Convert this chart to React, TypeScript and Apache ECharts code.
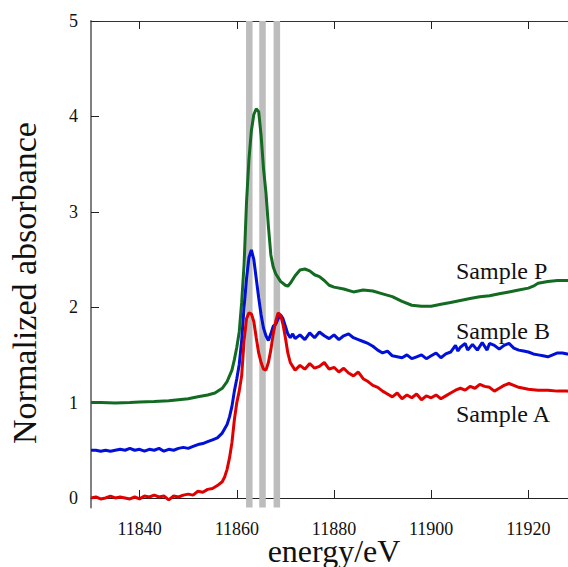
import React, { useEffect, useRef } from "react";
import * as echarts from "echarts";

// Sample P (green)
const energyP = [11830, 11832, 11835, 11838, 11840, 11843, 11846, 11848, 11850, 11852, 11854, 11855.5, 11857, 11858, 11859, 11859.5, 11860, 11860.5, 11861, 11861.5, 11862, 11862.5, 11863, 11863.5, 11864, 11864.5, 11865, 11865.5, 11866, 11866.5, 11867, 11867.5, 11868, 11869, 11870, 11870.5, 11871, 11872, 11873, 11874, 11875, 11876, 11877, 11878, 11879, 11880, 11882, 11884, 11886, 11888, 11890, 11892, 11894, 11896, 11898, 11900, 11902, 11904, 11906, 11908, 11910, 11912, 11914, 11916, 11918, 11920, 11921, 11922, 11924, 11926, 11928, 11930];
const valuesP = [1.0, 1.0, 0.995, 1.0, 1.005, 1.01, 1.02, 1.03, 1.04, 1.06, 1.08, 1.1, 1.15, 1.22, 1.34, 1.45, 1.58, 1.74, 2.05, 2.45, 3.1, 3.55, 3.85, 4.02, 4.08, 4.05, 3.8, 3.45, 3.2, 2.85, 2.55, 2.42, 2.35, 2.27, 2.23, 2.22, 2.25, 2.33, 2.39, 2.4, 2.38, 2.34, 2.32, 2.28, 2.23, 2.21, 2.19, 2.16, 2.18, 2.17, 2.14, 2.11, 2.06, 2.02, 2.01, 2.01, 2.03, 2.05, 2.07, 2.09, 2.11, 2.12, 2.14, 2.16, 2.18, 2.2, 2.22, 2.25, 2.27, 2.28, 2.28, 2.28];

// Sample B (blue)
const energyB = [11830, 11831, 11832, 11833, 11834, 11835, 11836, 11837, 11838, 11839, 11840, 11841, 11842, 11843, 11844, 11845, 11846, 11847, 11848, 11849, 11850, 11851, 11852, 11853, 11854, 11855, 11856, 11857, 11858, 11858.5, 11859, 11859.5, 11860, 11860.5, 11861, 11861.5, 11862, 11862.5, 11863, 11863.5, 11864, 11864.5, 11865, 11865.5, 11866, 11866.5, 11867, 11867.5, 11868, 11868.5, 11869, 11869.5, 11870, 11870.5, 11871, 11871.5, 11872, 11873, 11874, 11875, 11876, 11877, 11878, 11879, 11880, 11881, 11882, 11883, 11884, 11885, 11886, 11887, 11888, 11889, 11890, 11891, 11892, 11893, 11894, 11895, 11896, 11897, 11898, 11899, 11900, 11901, 11902, 11903, 11904, 11905, 11905.5, 11906, 11907, 11907.5, 11908.5, 11909.5, 11910.5, 11911.5, 11912, 11913, 11914, 11915, 11916, 11917, 11918, 11919, 11920, 11921, 11922, 11923, 11924, 11925, 11926, 11927, 11928, 11930];
const valuesB = [0.5, 0.5, 0.49, 0.5, 0.49, 0.5, 0.51, 0.5, 0.52, 0.5, 0.51, 0.49, 0.51, 0.5, 0.52, 0.49, 0.51, 0.5, 0.52, 0.53, 0.52, 0.54, 0.56, 0.57, 0.59, 0.61, 0.63, 0.68, 0.77, 0.85, 0.96, 1.12, 1.25, 1.4, 1.65, 2.0, 2.3, 2.52, 2.6, 2.5, 2.3, 2.1, 1.92, 1.78, 1.7, 1.65, 1.72, 1.8, 1.82, 1.88, 1.92, 1.88, 1.8, 1.72, 1.68, 1.72, 1.67, 1.71, 1.66, 1.73, 1.68, 1.74, 1.7, 1.67, 1.71, 1.66, 1.7, 1.72, 1.68, 1.66, 1.64, 1.62, 1.59, 1.55, 1.52, 1.54, 1.49, 1.48, 1.47, 1.5, 1.46, 1.48, 1.5, 1.46, 1.49, 1.52, 1.47, 1.51, 1.53, 1.6, 1.54, 1.58, 1.62, 1.55, 1.61, 1.55, 1.63, 1.55, 1.62, 1.6, 1.56, 1.6, 1.62, 1.57, 1.55, 1.54, 1.53, 1.51, 1.5, 1.49, 1.48, 1.5, 1.52, 1.52, 1.51, 1.5];

// Sample A (red)
const energyA = [11830, 11831, 11832, 11833, 11834, 11835, 11836, 11837, 11838, 11839, 11840, 11841, 11842, 11843, 11844, 11845, 11846, 11847, 11848, 11849, 11850, 11851, 11852, 11853, 11854, 11855, 11856, 11857, 11857.5, 11858, 11858.5, 11859, 11859.5, 11860, 11860.5, 11861, 11861.5, 11862, 11862.5, 11863, 11863.5, 11864, 11864.5, 11865, 11865.5, 11866, 11866.5, 11867, 11867.5, 11868, 11868.5, 11869, 11869.5, 11870, 11870.5, 11871, 11871.5, 11872, 11873, 11874, 11875, 11876, 11877, 11878, 11879, 11880, 11881, 11882, 11883, 11884, 11885, 11886, 11887, 11888, 11889, 11890, 11891, 11892, 11893, 11894, 11895, 11896, 11897, 11898, 11899, 11900, 11901, 11902, 11903, 11904, 11905, 11906, 11907, 11908, 11909, 11910, 11911, 11912, 11913, 11914, 11915, 11916, 11917, 11918, 11919, 11920, 11922, 11924, 11926, 11928, 11930];
const valuesA = [0.0, 0.01, -0.01, 0.0, 0.02, 0.0, 0.01, 0.0, -0.01, 0.01, -0.01, 0.02, 0.01, 0.03, 0.01, 0.02, -0.02, 0.02, 0.01, 0.03, 0.04, 0.03, 0.07, 0.06, 0.09, 0.1, 0.13, 0.17, 0.22, 0.3, 0.42, 0.58, 0.82, 1.0, 1.12, 1.28, 1.65, 1.88, 1.94, 1.93, 1.85, 1.68, 1.52, 1.42, 1.35, 1.34, 1.42, 1.55, 1.72, 1.85, 1.94, 1.92, 1.82, 1.68, 1.52, 1.42, 1.38, 1.34, 1.39, 1.35, 1.41, 1.36, 1.38, 1.42, 1.35, 1.37, 1.32, 1.36, 1.31, 1.28, 1.32, 1.25, 1.22, 1.18, 1.16, 1.12, 1.09, 1.06, 1.1, 1.04, 1.08, 1.05, 1.09, 1.03, 1.07, 1.05, 1.08, 1.04, 1.07, 1.1, 1.13, 1.15, 1.13, 1.17, 1.15, 1.19, 1.17, 1.16, 1.12, 1.15, 1.18, 1.2, 1.18, 1.16, 1.15, 1.14, 1.13, 1.13, 1.12, 1.12, 1.11];

// Highlighted energy bands (eV)
const bandCenters = [11862.57, 11865.29, 11868.24];
const bandHalfWidth = 0.67;

const xTicks = [11840, 11860, 11880, 11900, 11920];
const yTicks = [0, 1, 2, 3, 4, 5];

const sampleLabels = ["Sample P", "Sample B", "Sample A"];
const xTitle = "energy/eV";
const yTitle = "Normalized absorbance";

const FONT = "Liberation Serif";

const zip = (xs: number[], ys: number[]) => xs.map((x, i) => [x, ys[i]]);

export default function App() {
  const ref = useRef<HTMLDivElement>(null);
  useEffect(() => {
    if (!ref.current) return;
    const chart = echarts.init(ref.current, null, { renderer: "svg" });
    const lineSeries = (data: number[][], color: string) => ({
      type: "line",
      data,
      showSymbol: false,
      symbol: "none",
      z: 3,
      lineStyle: { color, width: 3 },
    });
    const labelStyle = {
      formatter: (v: number) => `{t|${v}}`,
      rich: { t: { fontFamily: FONT, fontSize: 18, color: "#111" } },
      color: "#111",
      fontFamily: FONT,
      fontSize: 18,
    };
    chart.setOption({
      animation: false,
      textStyle: { fontFamily: FONT },
      grid: { left: 91, top: 21, width: 486, height: 486.5, containLabel: false, outerBoundsMode: "none" },
      xAxis: [
        {
          type: "value",
          min: 11830,
          max: 11930,
          position: "bottom",
          axisLine: { show: true, lineStyle: { color: "#222", width: 1.2 } },
          axisTick: { show: true, inside: true, length: 8, customValues: xTicks, lineStyle: { color: "#222" } },
          axisLabel: { ...labelStyle, customValues: xTicks, margin: 12 },
          splitLine: { show: false },
        },
        {
          type: "value",
          min: 11830,
          max: 11930,
          position: "top",
          axisLine: { show: true, lineStyle: { color: "#333", width: 1 } },
          axisTick: { show: true, inside: true, length: 8, customValues: xTicks, lineStyle: { color: "#222" } },
          axisLabel: { show: false },
          splitLine: { show: false },
        },
      ],
      yAxis: {
        type: "value",
        min: -0.1,
        max: 5,
        axisLine: { show: true, lineStyle: { color: "#808080", width: 2 } },
        axisTick: { show: true, inside: true, length: 8, customValues: yTicks, lineStyle: { color: "#222" } },
        axisLabel: { ...labelStyle, customValues: yTicks, margin: 13 },
        splitLine: { show: false },
      },
      graphic: [
        {
          type: "text",
          x: 24,
          y: 283,
          rotation: Math.PI / 2,
          style: {
            text: yTitle,
            fill: "#111",
            font: `34px ${FONT}`,
            textAlign: "center",
            textVerticalAlign: "middle",
          },
        },
        {
          type: "text",
          x: 334,
          y: 550.5,
          style: {
            text: xTitle,
            fill: "#111",
            font: `32px ${FONT}`,
            textAlign: "center",
            textVerticalAlign: "middle",
          },
        },
        ...sampleLabels.map((t, i) => ({
          type: "text",
          x: 456,
          y: [271, 331, 413.5][i],
          style: {
            text: t,
            fill: "#111",
            font: `24px ${FONT}`,
            textAlign: "left",
            textVerticalAlign: "middle",
          },
        })),
      ],
      series: [
        {
          type: "line",
          data: [],
          z: 1,
          markArea: {
            silent: true,
            itemStyle: { color: "#bdbdbd", opacity: 1 },
            data: bandCenters.map((c) => [
              { xAxis: c - bandHalfWidth, yAxis: -0.1 },
              { xAxis: c + bandHalfWidth, yAxis: 5 },
            ]),
          },
        },
        lineSeries(zip(energyP, valuesP), "#136b22"),
        lineSeries(zip(energyB, valuesB), "#0010d8"),
        lineSeries(zip(energyA, valuesA), "#e00000"),
      ],
    });
    return () => chart.dispose();
  }, []);
  return (
    <div style={{ position: "absolute", left: 0, top: 0, width: 568, height: 567, overflow: "hidden", background: "#fff" }}>
      <div ref={ref} style={{ width: 590, height: 567 }} />
    </div>
  );
}
